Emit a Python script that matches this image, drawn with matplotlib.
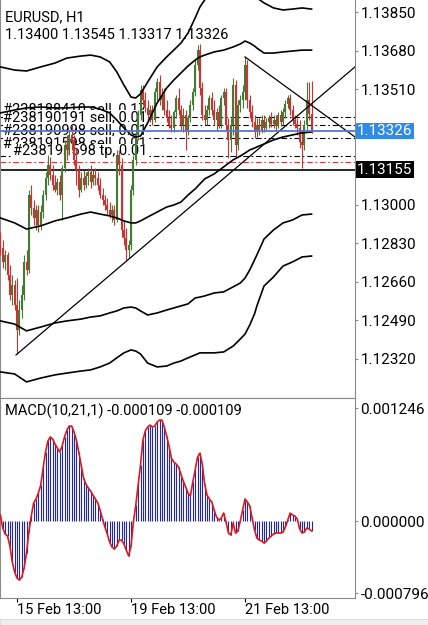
import matplotlib
matplotlib.use("Agg")
import matplotlib.pyplot as plt
import numpy as np
from matplotlib.transforms import blended_transform_factory

plt.rcParams["font.family"] = ["Roboto", "DejaVu Sans"]

# prices are stored in points (0.00001) above BASE
BASE = 1.12

opens = [867, 810, 748, 779, 691, 602, 646, 558, 448, 536,
         602, 748, 713, 1043, 986, 942, 977, 911, 968, 1043,
         1118, 1176, 1131, 1087, 1065, 1101, 1043, 1162, 1264, 1242,
         1308, 1286, 1198, 1153, 1065, 1118, 1087, 1127, 1145, 1101,
         1131, 1118, 1087, 1043, 1021, 999, 977, 955, 977, 933,
         1220, 1176, 889, 854, 801, 823, 1065, 1198, 1308, 1396,
         1506, 1462, 1427, 1396, 1418, 1374, 1497, 1541, 1462, 1484,
         1418, 1383, 1352, 1339, 1409, 1471, 1418, 1352, 1396, 1330,
         1383, 1440, 1497, 1616, 1683, 1515, 1396, 1374, 1418, 1471,
         1418, 1374, 1409, 1352, 1471, 1497, 1352, 1286, 1352, 1528,
         1264, 1440, 1462, 1497, 1616, 1462, 1409, 1365, 1321, 1352,
         1330, 1374, 1339, 1365, 1383, 1356, 1374, 1347, 1396, 1365,
         1409, 1444, 1471, 1418, 1374, 1356, 1339, 1277, 1264, 1352,
         1462, 1400]
highs = [880, 845, 801, 792, 735, 691, 668, 677, 580, 646,
         779, 801, 1065, 1087, 1021, 999, 999, 999, 1065, 1145,
         1220, 1211, 1176, 1131, 1118, 1131, 1176, 1286, 1308, 1330,
         1352, 1308, 1250, 1176, 1145, 1153, 1145, 1162, 1176, 1153,
         1162, 1145, 1118, 1074, 1043, 1030, 1012, 999, 999, 1242,
         1242, 1206, 933, 898, 845, 1087, 1220, 1330, 1418, 1528,
         1528, 1497, 1462, 1440, 1440, 1515, 1559, 1572, 1515, 1515,
         1462, 1418, 1396, 1418, 1484, 1515, 1440, 1427, 1418, 1396,
         1462, 1515, 1638, 1705, 1709, 1541, 1440, 1440, 1484, 1497,
         1462, 1427, 1440, 1484, 1515, 1515, 1383, 1383, 1559, 1550,
         1462, 1484, 1528, 1652, 1638, 1484, 1440, 1396, 1383, 1383,
         1396, 1396, 1383, 1396, 1409, 1396, 1396, 1409, 1418, 1427,
         1462, 1484, 1489, 1440, 1396, 1383, 1374, 1330, 1374, 1541,
         1541, 1545]
lows = [779, 721, 713, 668, 580, 558, 536, 342, 426, 501,
        580, 691, 699, 955, 911, 889, 880, 889, 942, 1021,
        1087, 1109, 1065, 1056, 1043, 1021, 933, 1145, 1198, 1220,
        1242, 1176, 1087, 1034, 1056, 1065, 1074, 1087, 1074, 1087,
        1087, 1065, 1030, 999, 977, 955, 942, 924, 911, 924,
        1131, 858, 823, 757, 765, 801, 1043, 1176, 1286, 1374,
        1440, 1409, 1374, 1365, 1352, 1365, 1462, 1440, 1418, 1396,
        1365, 1339, 1321, 1321, 1383, 1396, 1330, 1321, 1242, 1308,
        1365, 1418, 1480, 1594, 1484, 1374, 1352, 1352, 1396, 1396,
        1352, 1330, 1339, 1339, 1440, 1330, 1206, 1233, 1308, 1211,
        1242, 1409, 1427, 1462, 1427, 1383, 1343, 1295, 1299, 1308,
        1317, 1321, 1330, 1339, 1343, 1339, 1330, 1339, 1347, 1352,
        1383, 1427, 1396, 1352, 1339, 1308, 1250, 1162, 1242, 1330,
        1374, 1317]
closes = [810, 748, 779, 691, 602, 646, 558, 448, 536, 602,
          748, 713, 1043, 986, 942, 977, 911, 968, 1043, 1118,
          1176, 1131, 1087, 1065, 1101, 1043, 1162, 1264, 1242, 1308,
          1286, 1198, 1153, 1065, 1118, 1087, 1127, 1145, 1101, 1131,
          1118, 1087, 1043, 1021, 999, 977, 955, 977, 933, 1220,
          1176, 889, 854, 801, 823, 1065, 1198, 1308, 1396, 1506,
          1462, 1427, 1396, 1418, 1374, 1497, 1541, 1462, 1484, 1418,
          1383, 1352, 1339, 1409, 1471, 1418, 1352, 1396, 1330, 1383,
          1440, 1497, 1616, 1683, 1515, 1396, 1374, 1418, 1471, 1418,
          1374, 1409, 1352, 1471, 1497, 1352, 1286, 1352, 1528, 1264,
          1440, 1462, 1497, 1616, 1462, 1409, 1365, 1321, 1352, 1330,
          1374, 1339, 1365, 1383, 1356, 1374, 1347, 1396, 1365, 1409,
          1444, 1471, 1418, 1374, 1356, 1339, 1277, 1264, 1352, 1462,
          1400, 1326]

# MACD histogram, in 0.000001
macd = [66, -77, -143, -165, -276, -452, -563, -629, -651, -618,
        -518, -353, -121, 55, 199, 243, 309, 397, 585, 761,
        882, 927, 904, 849, 805, 761, 827, 927, 1004, 1048,
        1048, 982, 893, 761, 618, 474, 408, 364, 331, 287,
        243, 199, 121, 22, -66, -143, -232, -287, -309, -276,
        -210, -210, -254, -320, -386, -276, -11, 176, 397, 618,
        893, 993, 1037, 1059, 1037, 1048, 1092, 1114, 1114, 1037,
        938, 827, 695, 651, 629, 596, 518, 441, 375, 309,
        276, 430, 563, 706, 750, 629, 408, 287, 243, 210,
        121, 44, 11, 33, 88, -11, -132, -154, -22, -132,
        -110, 0, 121, 243, 210, 165, 33, -99, -188, -210,
        -221, -243, -221, -188, -165, -143, -132, -132, -132, -121,
        -66, 11, 88, 66, 55, 22, -88, -132, -121, -77,
        -88, -109]

# bollinger style envelopes, sampled at these candle indices
band_idx = [0, 6, 11, 17, 23, 28, 34, 38, 42, 46, 49, 52, 55, 57, 59, 62, 66, 70, 73,
            76, 79, 82, 84, 86, 90, 94, 98, 101, 103, 105, 107, 108, 111, 115, 119, 123, 127, 131]
band_outer_up = [1608, 1594, 1590, 1608, 1625, 1647, 1656, 1660, 1652, 1630, 1586, 1528, 1475,
                 1471, 1489, 1541, 1608, 1652, 1682, 1713, 1757, 1824, 1872, 1903, 1947, 1969,
                 1978, 1974, 1965, 1947, 1925, 1912, 1890, 1868, 1859, 1863, 1868, 1863]
band_inner_up = [1405, 1418, 1427, 1431, 1427, 1427, 1431, 1431, 1422, 1405, 1374, 1339, 1308,
                 1299, 1303, 1361, 1449, 1515, 1550, 1581, 1612, 1638, 1652, 1660, 1674, 1682,
                 1696, 1709, 1722, 1713, 1700, 1691, 1669, 1669, 1674, 1678, 1682, 1682]
band_mid = [942, 920, 893, 907, 929, 942, 959, 968, 959, 951, 942, 929, 920, 920, 929, 946, 968,
            990, 999, 1012, 1043, 1070, 1092, 1114, 1136, 1167, 1198, 1215, 1228, 1242, 1250,
            1255, 1268, 1286, 1299, 1308, 1317, 1321]
band_inner_dn = [488, 474, 444, 461, 479, 488, 496, 505, 510, 523, 532, 545, 549, 545, 532, 514,
                 523, 536, 545, 554, 563, 589, 593, 598, 611, 616, 638, 655, 677, 713, 757, 779,
                 849, 889, 920, 933, 955, 959]
band_outer_dn = [263, 254, 219, 236, 250, 258, 267, 272, 285, 302, 325, 347, 360, 355, 342, 302,
                 285, 289, 302, 311, 325, 338, 347, 347, 347, 351, 377, 408, 430, 470, 519, 554,
                 642, 682, 730, 748, 770, 774]

trend_up_idx = [6.6, 149.3]
trend_up = [338, 1608]
trend_dn_idx = [103, 149.3]
trend_dn = [1652, 1299]

order_labels = ["#238188410 sell, 0.17", "#238190191 sell, 0.01",
                "#238190998 sell, 0.01", "#238191598 sell, 0.01"]
order_prices = [1387, 1352, 1295, 1215]
tp_label = "#238191598 tp, 0.01"
tp_price = 1189
level_price = 1155

price_ticks = [1.13850, 1.13680, 1.13510, 1.13000, 1.12830, 1.12660, 1.12490, 1.12320]
macd_ticks = [0.001246, 0.0, -0.000796]
date_idx = [7, 55, 103]
date_labels = ["15 Feb 13:00", "19 Feb 13:00", "21 Feb 13:00"]


def pr(v):
    return BASE + np.asarray(v, dtype=float) * 1e-5


GREEN = "#3f7d32"
RED = "#d23030"
FRAME = "#8a8a8a"
FS = 10.5

fig = plt.figure(figsize=(4.28, 6.25), dpi=100)
ax = fig.add_axes([0, 227 / 625, 355 / 428, 398 / 625])
ax2 = fig.add_axes([0, 27 / 625, 355 / 428, 200 / 625])

n = len(closes)
idx = np.arange(n)
o, h, l, c = pr(opens), pr(highs), pr(lows), pr(closes)
cols = [GREEN if cc >= oo else RED for oo, cc in zip(o, c)]
ax.vlines(idx, l, h, colors=cols, lw=0.8, zorder=3)
ax.vlines(idx, np.minimum(o, c), np.maximum(o, c), colors=cols, lw=1.5, zorder=3)

for band in (band_outer_up, band_inner_up, band_mid, band_inner_dn, band_outer_dn):
    ax.plot(band_idx, pr(band), color="black", lw=1.2, zorder=4, solid_joinstyle="round")
ax.plot(trend_up_idx, pr(trend_up), color="black", lw=0.9, zorder=4)
ax.plot(trend_dn_idx, pr(trend_dn), color="black", lw=0.9, zorder=4)

for p in order_prices:
    ax.axhline(pr(p), color="black", lw=0.8, ls=(0, (5, 2.5, 1.5, 2.5)), zorder=1)
ax.axhline(pr(tp_price), color="#d03a3a", lw=0.8, ls=(0, (5, 2.5, 1.5, 2.5)), zorder=1)
ax.axhline(pr(level_price), color="black", lw=1.2, zorder=1.5)
ax.axhline(c[-1], color="#5577d0", lw=1.3, zorder=5)

# trade labels, right aligned, opaque white boxes stacked top to bottom
label_y = [109, 117, 130, 143, 151]
for txt, yy in zip(order_labels + [tp_label], label_y):
    ax.text(147 / 355, 1 - yy / 398, txt, transform=ax.transAxes, ha="right", va="center",
            fontsize=FS, color="black", zorder=2,
            bbox=dict(boxstyle="square,pad=0", fc="white", ec="none"))

ax.text(5 / 355, 1 - 17 / 398, "EURUSD, H1", transform=ax.transAxes, ha="left", va="center",
        fontsize=FS, zorder=2)
ohlc = " ".join(f"{v:.5f}" for v in (o[-1], h[-1], l[-1], c[-1]))
ax.text(5 / 355, 1 - 35 / 398, ohlc, transform=ax.transAxes, ha="left", va="center",
        fontsize=FS, zorder=2)

ax.set_xlim(-0.158, 149.3)
ax.set_ylim(1.12148, 1.13903)
ax.set_xticks([])
ax.yaxis.tick_right()
ax.set_yticks(price_ticks)
ax.set_yticklabels([f"{t:.5f}" for t in price_ticks])
ax.tick_params(axis="y", length=2, color=FRAME, pad=2, labelsize=11)
for s in ("left", "right", "bottom"):
    ax.spines[s].set_color(FRAME)
ax.spines["top"].set_visible(False)

tr = blended_transform_factory(ax.transAxes, ax.transData)
for val, fc in ((c[-1], "#2f8ae8"), (pr(level_price), "black")):
    ax.annotate(f"{val:.5f}", xy=(1, val), xycoords=tr, xytext=(1.6, 0),
                textcoords="offset points", ha="left", va="center", color="white",
                fontsize=11, annotation_clip=False, zorder=10,
                bbox=dict(boxstyle="square,pad=0.08", fc=fc, ec="none"))

# MACD panel
m = np.asarray(macd, dtype=float) * 1e-6
ax2.vlines(idx, 0, m, colors="#2228a8", lw=0.8, zorder=2)
ax2.plot(idx, m, color="#e01818", lw=1.2, zorder=3)
ax2.set_xlim(-0.158, 149.3)
ax2.set_ylim(-0.000849, 0.001357)
ax2.text(5 / 355, 1 - 13 / 200, f"MACD(10,21,1) {m[-1]:.6f} {m[-1]:.6f}",
         transform=ax2.transAxes, ha="left", va="center", fontsize=FS)
ax2.yaxis.tick_right()
ax2.set_yticks(macd_ticks)
ax2.set_yticklabels([f"{t:.6f}" for t in macd_ticks])
ax2.tick_params(axis="y", length=2, color=FRAME, pad=2, labelsize=11)
ax2.set_xticks(date_idx)
ax2.set_xticklabels(date_labels, fontsize=FS)
for lab in ax2.get_xticklabels():
    lab.set_ha("left")
ax2.tick_params(axis="x", length=3, color="black", pad=0.5)
for s in ax2.spines.values():
    s.set_color(FRAME)

fig.patches.append(plt.Rectangle((0, 0), 1, 6 / 625, transform=fig.transFigure,
                                 fc="#eeeeee", ec="#d8d8d8", lw=0.6))

fig.savefig("out.png", dpi=100, facecolor="white")
